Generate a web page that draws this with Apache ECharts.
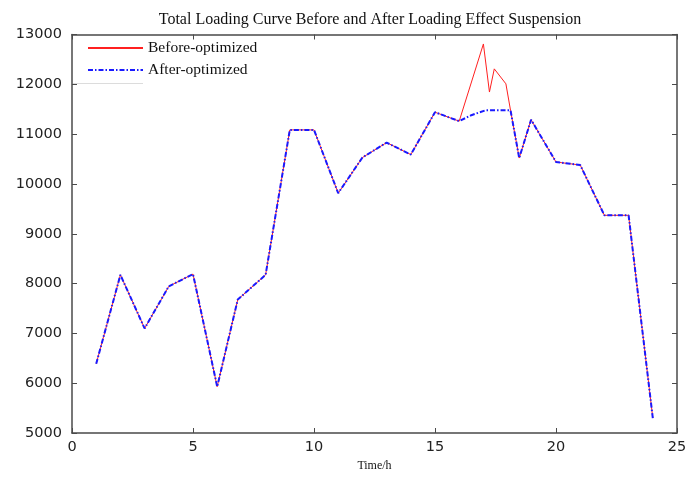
<!DOCTYPE html>
<html>
<head>
<meta charset="utf-8">
<script src="https://cdn.jsdelivr.net/npm/echarts@6/dist/echarts.min.js"></script>
<style>
  html, body { margin: 0; padding: 0; background: #fff; }
  #chart { width: 700px; height: 477px; }
</style>
</head>
<body>
<div id="chart"></div>
<script>
// Time (h) and total load for the curve before optimisation
const beforeTime = [1, 2, 3, 4, 5, 6, 6.85, 8, 9, 10, 11, 12, 13, 14, 15, 16,
                    17, 17.25, 17.45, 17.93, 18.12,
                    18.48, 18.97, 20, 21, 22, 23, 24];
const beforeLoad = [6390, 8175, 7100, 7945, 8190, 5930, 7680, 8175, 11085, 11085, 9815, 10530, 10830, 10590, 11440, 11260,
                    12810, 11845, 12310, 12010, 11480,
                    10520, 11290, 10440, 10380, 9370, 9370, 5300];

// Time (h) and total load after the loading effect is suspended
const afterTime = [1, 2, 3, 4, 5, 6, 6.85, 8, 9, 10, 11, 12, 13, 14, 15, 16,
                   16.5, 17.1, 18.12,
                   18.48, 18.97, 20, 21, 22, 23, 24];
const afterLoad = [6390, 8175, 7100, 7945, 8190, 5930, 7680, 8175, 11085, 11085, 9815, 10530, 10830, 10590, 11440, 11260,
                   11380, 11480, 11480,
                   10520, 11290, 10440, 10380, 9370, 9370, 5300];

const xMin = 0, xMax = 25, xStep = 5;
const yMin = 5000, yMax = 13000, yStep = 1000;

const pair = (xs, ys) => xs.map((x, i) => [x, ys[i]]);

const frame = { show: true, onZero: false, lineStyle: { color: '#4a4a4a', width: 1.5 } };
const tickIn = { show: true, inside: true, length: 5, lineStyle: { color: '#4a4a4a', width: 1 } };
const labelFont = { fontFamily: 'DejaVu Sans', fontSize: 14.5, color: '#222', formatter: v => String(v) };

const chart = echarts.init(document.getElementById('chart'), null, { renderer: 'canvas' });

chart.setOption({
  animation: false,
  backgroundColor: '#fff',
  title: {
    text: 'Total Loading Curve Before and After Loading Effect Suspension',
    left: 365,
    textAlign: 'center',
    top: 7,
    textStyle: { fontFamily: 'Liberation Serif', fontSize: 16, fontWeight: 'normal', color: '#111' }
  },
  grid: { left: 72, right: 23, top: 34.5, bottom: 40 },
  legend: {
    orient: 'vertical',
    left: 82,
    top: 35,
    itemWidth: 55,
    itemHeight: 14,
    itemGap: 6,
    itemStyle: { opacity: 0 },
    textStyle: { fontFamily: 'Liberation Serif', fontSize: 15.5, color: '#111', lineHeight: 14 },
    data: ['Before-optimized', 'After-optimized']
  },
  graphic: [{
    type: 'line',
    shape: { x1: 73, y1: 83.5, x2: 143, y2: 83.5 },
    style: { stroke: '#dcdcdc', lineWidth: 1 },
    silent: true
  }],
  xAxis: [{
    type: 'value', min: xMin, max: xMax, interval: xStep, position: 'bottom',
    axisLine: frame, axisTick: tickIn, splitLine: { show: false },
    axisLabel: Object.assign({ margin: 7 }, labelFont),
    name: 'Time/h', nameLocation: 'middle', nameGap: 27,
    nameTextStyle: { fontFamily: 'Liberation Serif', fontSize: 12, color: '#111' }
  }, {
    type: 'value', min: xMin, max: xMax, interval: xStep, position: 'top',
    axisLine: frame, axisTick: tickIn, splitLine: { show: false },
    axisLabel: { show: false }
  }],
  yAxis: [{
    type: 'value', min: yMin, max: yMax, interval: yStep, position: 'left',
    axisLine: frame, axisTick: tickIn, splitLine: { show: false },
    axisLabel: Object.assign({ margin: 10 }, labelFont)
  }, {
    type: 'value', min: yMin, max: yMax, interval: yStep, position: 'right',
    axisLine: frame, axisTick: tickIn, splitLine: { show: false },
    axisLabel: { show: false }
  }],
  series: [{
    name: 'Before-optimized',
    type: 'line',
    xAxisIndex: 0, yAxisIndex: 0,
    symbol: 'none',
    z: 2,
    lineStyle: { color: '#ff2020', width: 1 },
    itemStyle: { color: '#ff2020' },
    data: pair(beforeTime, beforeLoad)
  }, {
    name: 'After-optimized',
    type: 'line',
    xAxisIndex: 0, yAxisIndex: 0,
    symbol: 'none',
    z: 3,
    lineStyle: { color: '#1a1aff', width: 2, type: [5, 2, 1.5, 2] },
    itemStyle: { color: '#1a1aff' },
    data: pair(afterTime, afterLoad)
  }]
});
</script>
</body>
</html>
